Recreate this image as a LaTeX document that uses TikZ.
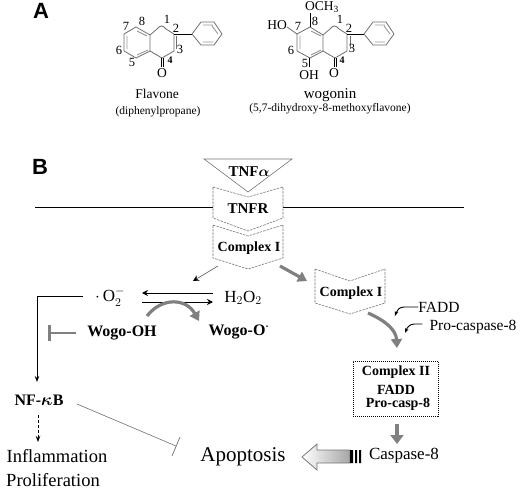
\documentclass[tikz,border=0pt]{standalone}
\usepackage{amsmath}
\usepackage{fontspec}
\setmainfont{Liberation Serif}
\newfontfamily\labelfont{Liberation Sans}
\usetikzlibrary{positioning,arrows.meta,calc}
\definecolor{bondGray}{HTML}{6E6E6E}
\definecolor{flowGray}{HTML}{808080}
\definecolor{dashGray}{HTML}{777777}

\begin{document}
\begin{tikzpicture}[x=1pt,y=-1pt,>=Stealth,
      panel/.style={font=\labelfont\fontsize{22}{22}\selectfont\bfseries, inner sep=0pt},
      num/.style={font=\fontsize{12.5}{12.5}\selectfont, inner sep=0pt},
      numb/.style={font=\fontsize{10}{10}\selectfont\bfseries, inner sep=0pt},
      atom/.style={font=\fontsize{13.5}{13.5}\selectfont, inner sep=0pt},
      bond/.style={bondGray, line width=0.8pt},
      dbond/.style={bondGray!70, line width=0.9pt},
      blackbond/.style={black, line width=0.9pt},
      caption/.style={font=\fontsize{13.5}{14}\selectfont, inner sep=0pt},
      subcap/.style={font=\fontsize{11.5}{12}\selectfont, inner sep=0pt},
      boxtext/.style={font=\fontsize{14}{14}\selectfont\bfseries, inner sep=0pt},
      cplxtext/.style={font=\fontsize{14}{14}\selectfont\bfseries, inner sep=0pt},
      plain/.style={font=\fontsize{15.5}{16}\selectfont, inner sep=0pt},
      big/.style={font=\fontsize{18.5}{19}\selectfont, inner sep=0pt},
      ros/.style={font=\fontsize{17}{17}\selectfont, inner sep=0pt},
      wogo/.style={font=\fontsize{16}{16}\selectfont\bfseries, inner sep=0pt},
      chevron/.style={dashGray, dash pattern=on 2.5pt off 1pt, line width=0.6pt},
      thinarrow/.style={-{Stealth[length=6pt,width=6pt]}, line width=0.9pt},
      grayarrow/.style={-{Triangle[length=9pt,width=11pt]}, flowGray, line width=3.2pt}]
    \useasboundingbox (0,0) rectangle (520,492);
    % ---- panel A
    \node[panel] (panelA) at (41,11) {A};
    \node[panel] (panelB) at (40,167) {B};
    % flavone skeleton
    \draw[bond] (124,51) -- (124,34) -- (136,27) -- (150,35) -- (150,51) -- (136,58) -- cycle;
    \draw[dbond] (127,49) -- (127,36) (137,31) -- (147,36) (148,50) -- (137,55);
    \draw[bond] (150,35) -- (157,29) .. controls (160,25) and (163,25) .. (166,29)
      -- (174,34) -- (174,51) -- (162,58) -- (150,51);
    \draw[blackbond] (174,34) -- (192,34);
    \draw[bond] (176,36) -- (176,49);
    \draw[blackbond] (161,58) -- (161,67) (163,58) -- (163,67);
    \draw[bond] (192,34) -- (201,22) -- (214,22) -- (222,34) -- (214,45) -- (201,45) -- cycle;
    \draw[dbond] (203,25) -- (213,25) (218,34) -- (212,26) (203,42) -- (213,42);
    \node[num] (f1) at (167,19) {1};
    \node[num] (f2) at (176,28) {2};
    \node[num] (f3) at (180,49) {3};
    \node[numb] (f4) at (170,60) {4};
    \node[num] (f5) at (132,62) {5};
    \node[num] (f6) at (119,50) {6};
    \node[num] (f7) at (126,26) {7};
    \node[num] (f8) at (142,21) {8};
    \node[atom] (fO) at (162,73) {O};
    \node[caption] (flavone) at (157,94) {Flavone};
    \node[subcap] (flavonesub) at (158,112) {(diphenylpropane)};
    % wogonin skeleton
    \draw[bond] (297,51) -- (297,34) -- (310,27) -- (323,35) -- (323,51) -- (310,58) -- cycle;
    \draw[dbond] (300,49) -- (300,36) (311,31) -- (321,36) (321,50) -- (311,55);
    \draw[bond] (323,35) -- (330,29) .. controls (333,25) and (336,25) .. (339,29)
      -- (347,34) -- (347,51) -- (335,58) -- (323,51);
    \draw[blackbond] (347,34) -- (364,34);
    \draw[bond] (350,36) -- (350,49);
    \draw[blackbond] (334,58) -- (334,67) (336,58) -- (336,67);
    \draw[bond] (364,34) -- (373,22) -- (386,22) -- (394,34) -- (386,45) -- (373,45) -- cycle;
    \draw[dbond] (375,25) -- (385,25) (390,34) -- (384,26) (375,42) -- (385,42);
    \draw[blackbond] (310,27) -- (310,13);
    \draw[bond] (297,34) -- (287,27);
    \draw[blackbond] (309,58) -- (309,67);
    \node[atom] (och) at (322,7) {OCH$_{\mathrm 3}$};
    \node[atom] (ho) at (277,25) {HO};
    \node[atom] (oh) at (309,75) {OH};
    \node[atom] (wO) at (334,73) {O};
    \node[num] (w1) at (340,19) {1};
    \node[num] (w2) at (349,28) {2};
    \node[num] (w3) at (352,48) {3};
    \node[numb] (w4) at (342,60) {4};
    \node[num] (w5) at (305,63) {5};
    \node[num] (w6) at (291,50) {6};
    \node[num] (w7) at (298,26) {7};
    \node[num] (w8) at (315,21) {8};
    \node[caption, font=\fontsize{15}{15}\selectfont] (wogonin) at (330,95) {wogonin};
    \node[subcap] (wogoninsub) at (330,109) {(5,7-dihydroxy-8-methoxyflavone)};
    % ---- membrane and receptor stack
    \coordinate (memL) at (35,208);
    \coordinate (memR) at (464,208);
    \coordinate (memA) at (213,208);
    \coordinate (memB) at (283,208);
    \draw[line width=1pt] (memL) -- (memA) (memB) -- (memR);
    \draw[chevron] (213,187) -- (248,197) -- (283,187) -- (283,218) -- (248,231) -- (213,218) -- cycle;
    \draw[dashGray, line width=0.6pt, fill=white] (204,159) -- (292,159) -- (248,192) -- cycle;
    \node[boxtext, font=\fontsize{15}{15}\selectfont\bfseries] (tnfa) at (249,172) {TNF$\boldsymbol{\alpha}$};
    \node[boxtext, font=\fontsize{15}{15}\selectfont\bfseries] (tnfr) at (248,209) {TNFR};
    \draw[chevron] (213,225) -- (248,236) -- (283,225) -- (283,258) -- (248,269) -- (213,258) -- cycle;
    \node[cplxtext] (cplxA) at (249,248) {Complex I};
    \draw[chevron] (315,269) -- (350,281) -- (385,269) -- (385,303) -- (350,314) -- (315,303) -- cycle;
    \node[cplxtext] (cplxB) at (351,293) {Complex I};
    \coordinate (cplxAout) at (218,266);
    \coordinate (cplxAtip) at (193,281);
    \draw[bondGray, line width=0.7pt, -{Stealth[length=6pt,width=6pt,black]}] (cplxAout) -- (cplxAtip);
    \coordinate (cplxAr) at (280,266);
    \coordinate (cplxBl) at (307,281);
    \draw[grayarrow] (cplxAr) -- (cplxBl);
    % ---- ROS
    \node[ros] (o2) at (110,297) {$\cdot$\,O$_2^{-}$};
    \node[ros] (h2o2) at (243,298) {H$_2$O$_2$};
    \coordinate (eqLa) at (142,293);
    \coordinate (eqRa) at (213,293);
    \coordinate (eqLb) at (142,302);
    \coordinate (eqRb) at (213,302);
    \draw[thinarrow] (eqRa) -- (eqLa);
    \draw[thinarrow] (eqLb) -- (eqRb);
    \coordinate (curveA) at (147,316);
    \coordinate (curveB) at (199,321);
    \draw[grayarrow] (curveA) .. controls (162,297) and (186,298) .. (curveB);
    \node[wogo] (wogooh) at (122,333) {Wogo-OH};
    \node[wogo] (wogoo) at (239,332) {Wogo-O$^{\boldsymbol{\cdot}}$};
    \coordinate (barEnd) at (76,333);
    \coordinate (barMid) at (49,333);
    \coordinate (barA) at (49,325);
    \coordinate (barB) at (49,341);
    \draw[flowGray, line width=2.4pt] (barEnd) -- (barMid);
    \draw[flowGray, line width=3pt] (barA) -- (barB);
    % ---- NF-kB branch
    \coordinate (ctlA) at (83,296);
    \coordinate (ctlC) at (37,296);
    \coordinate (ctlD) at (37,382);
    \node[wogo] (nfkb) at (39,400) {NF-$\boldsymbol{\kappa}$B};
    \draw[line width=1pt, -{Stealth[length=6pt]}] (ctlA) -- (ctlC) -- (ctlD);
    \node[big] (inflam) at (57,456) {Inflammation};
    \node[big] (prolif) at (53,480) {Proliferation};
    \coordinate (nfDown) at (38,415);
    \coordinate (inDown) at (38,442);
    \draw[densely dashed, line width=0.9pt, -{Stealth[length=6pt]}] (nfDown) -- (inDown);
    \coordinate (nfOut) at (77,404);
    \coordinate (tA) at (176,446);
    \coordinate (tB) at (180,437);
    \coordinate (tC) at (172,456);
    \draw[bondGray, line width=0.6pt] (nfOut) -- (tA);
    \draw[bondGray, line width=0.7pt] (tB) -- (tC);
    \node[font=\fontsize{21}{21}\selectfont, inner sep=0pt] (apop) at (243,457) {Apoptosis};
    % ---- caspase cascade
    \node[plain] (fadd) at (439,307) {FADD};
    \node[plain] (procasp) at (473,327) {Pro-caspase-8};
    \coordinate (faddtip) at (395,316);
    \coordinate (pctip) at (405,333);
    \draw[line width=0.9pt, -{Stealth[length=5pt]}] (fadd.west) -- ++(-14,0) .. controls +(-5,0) and (397,310) .. (faddtip);
    \draw[line width=0.9pt, -{Stealth[length=5pt]}] (procasp.west) ++(-7,-3) -- ++(-8,0) .. controls +(-5,0) and (407,328) .. (pctip);
    \draw[grayarrow] (368,313) .. controls (386,321) and (396,330) .. (397,348);
    \node[draw, densely dotted, line width=1pt, minimum width=85pt, minimum height=55pt, inner sep=0pt] (cplxII) at (395.5,388.5) {};
    \node[boxtext] (cIIa) at (396,372) {Complex II};
    \node[boxtext] (cIIb) at (396,390) {FADD};
    \node[boxtext] (cIIc) at (398,404) {Pro-casp-8};
    \node[plain, font=\fontsize{17}{17}\selectfont] (casp) at (404,456) {Caspase-8};
    \coordinate (caspTop) at (397,444);
    \draw[grayarrow, line width=4.5pt, -{Triangle[length=9pt,width=13pt]}] (cplxII.south -| caspTop) ++(0,7) -- (caspTop);
    \shade[left color=white, right color=gray!70, draw=dashGray, line width=0.8pt]
      (302,457) -- (317,444) -- (317,450) -- (350,450) -- (350,463) -- (317,463) -- (317,470) -- cycle;
    \fill[black] (350,450) rectangle (353,463) (355,450) rectangle (357,463) (359,450) rectangle (361,463);
\end{tikzpicture}
\end{document}
